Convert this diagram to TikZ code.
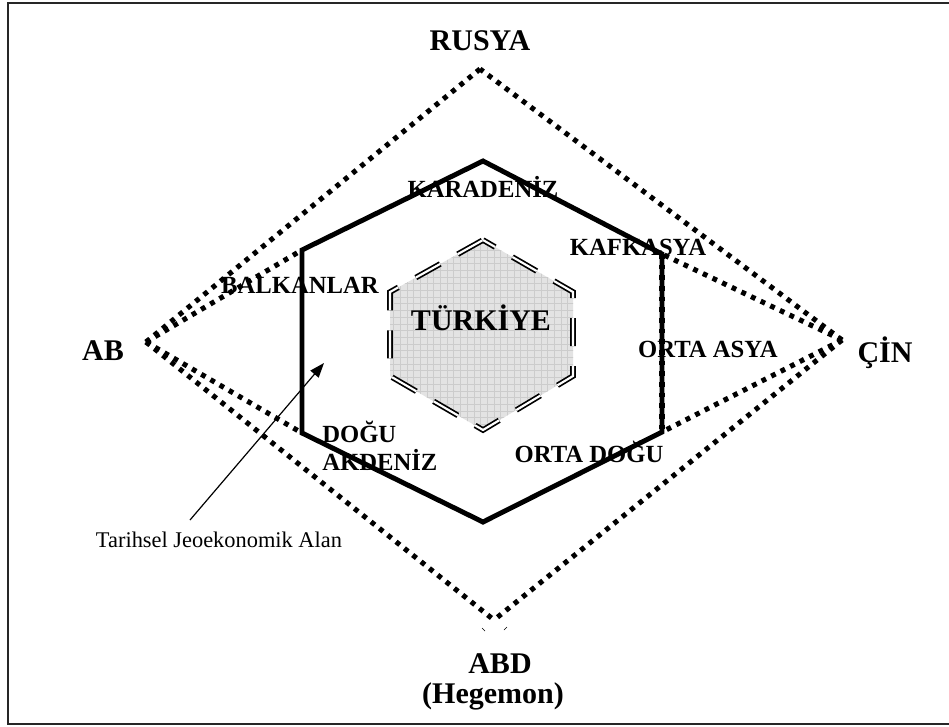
\documentclass[tikz,border=0pt]{standalone}
\usepackage{fontspec}
\setmainfont{Liberation Serif}
\usetikzlibrary{arrows.meta}
\tikzset{
  dotline/.style={line width=3.8pt, dash pattern=on 3.6pt off 4.4pt},
  hexline/.style={line width=3.7pt, line join=miter},
  dbldash/.style={draw=black, line width=1.3pt, double=white, double distance=1.6pt, dash pattern=on 21pt off 15pt, dash phase=10.5pt},
  biglabel/.style={font=\bfseries\fontsize{22.5pt}{26pt}\selectfont, inner sep=0pt, anchor=base},
  hexlabel/.style={font=\bfseries\fontsize{18.5pt}{22pt}\selectfont, inner sep=0pt, anchor=base},
  notelabel/.style={font=\fontsize{16.8pt}{20pt}\selectfont, inner sep=0pt, anchor=base},
  framestyle/.style={line width=1.6pt, draw=black!85},
  gridline/.style={draw=gray!40, line width=0.35pt},
  pointer/.style={line width=0.9pt, -{Triangle[length=11pt,width=8pt]}}
}
\begin{document}
\begin{tikzpicture}[x=0.75pt,y=-0.75pt]
\useasboundingbox (0,0) rectangle (949,726);
% frame
\draw[framestyle] (949,3) -- (8,3) -- (8,724) -- (949,724);

% points
\coordinate (top) at (480,69);
\coordinate (ab) at (146,342);
\coordinate (cin) at (842,340);
\coordinate (bot) at (494,620);
\coordinate (h1) at (483,161);
\coordinate (h2) at (662,254);
\coordinate (h3) at (662,432);
\coordinate (h4) at (483,522);
\coordinate (h5) at (302,433);
\coordinate (h6) at (302,250);
\coordinate (t1) at (483,240);
\coordinate (t2) at (573,292);
\coordinate (t3) at (573,376);
\coordinate (t4) at (483,430);
\coordinate (t5) at (390,376);
\coordinate (t6) at (390,292);

% inner hexagon with grid fill
\begin{scope}
  \clip (t1) -- (t2) -- (t3) -- (t4) -- (t5) -- (t6) -- cycle;
  \fill[gray!22] (380,230) rectangle (590,440);
  \foreach \i in {0,...,32} {
    \draw[gridline] (380+\i*6.7,230) -- (380+\i*6.7,440);
    \draw[gridline] (380,230+\i*6.7) -- (590,230+\i*6.7);
  }
\end{scope}
\draw[dbldash] (t1) -- (t2) -- (t3) -- (t4) -- (t5) -- (t6) -- cycle;

% dotted lines
\draw[dotline] (ab) -- (top);
\draw[dotline] (ab) -- (h6);
\draw[dotline] (ab) -- (h5);
\draw[dotline] (ab) -- (bot);
\draw[dotline] (cin) -- (top);
\draw[dotline] (cin) -- (h2);
\draw[dotline] (cin) -- (h3);
\draw[dotline] (cin) -- (bot);

% hexagon
\draw[hexline] (h1) -- (h2) -- (h3) -- (h4) -- (h5) -- (h6) -- cycle;
\draw[dotline] (h2) -- (h3);

% small ticks below bottom apex
\draw[line width=0.5pt] (482,628) -- (485,631);
\draw[line width=0.5pt] (507,627) -- (504,630);

% labels
\node[biglabel] (rusya) at (480,50) {RUSYA};
\node[biglabel] (abl) at (103,360) {AB};
\node[biglabel] (cinl) at (885,362) {ÇİN};
\node[biglabel] (abd) at (500,673) {ABD};
\node[biglabel] (heg) at (493,703) {(Hegemon)};
\node[biglabel] (turkiye) at (481,330) {TÜRKİYE};

\node[hexlabel] (karadeniz) at (483,197) {KARADENİZ};
\node[hexlabel] (kafkasya) at (638,255) {KAFKASYA};
\node[hexlabel] (balkanlar) at (300,293) {BALKANLAR};
\node[hexlabel] (ortaasya) at (708,357) {ORTA ASYA};
\node[hexlabel, anchor=base west] (dogu) at (322,442) {DOĞU};
\node[hexlabel, anchor=base west] (akdeniz) at (322,470) {AKDENİZ};
\node[hexlabel] (ortadogu) at (589,462) {ORTA DOĞU};

\node[notelabel] (alan) at (219,547) {Tarihsel Jeoekonomik Alan};
\coordinate (arrstart) at (190,520);
\coordinate (arrtip) at (324,363);
\draw[pointer] (arrstart) -- (arrtip);
\end{tikzpicture}
\end{document}
